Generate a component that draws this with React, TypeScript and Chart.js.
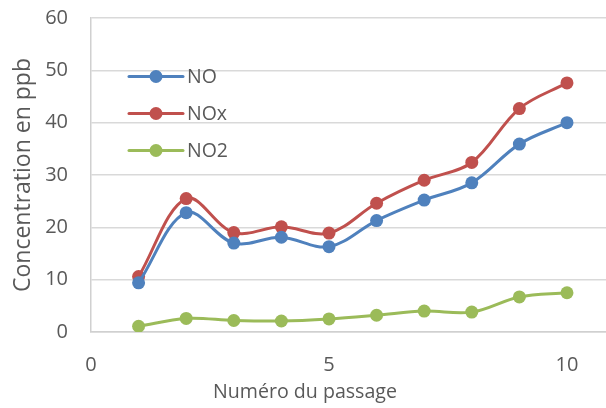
import React, { useEffect, useRef } from 'react';
import { Chart, registerables } from 'chart.js';
Chart.register(...registerables);

const passages = [1, 2, 3, 4, 5, 6, 7, 8, 9, 10];
const noValues = [9.4, 22.8, 17.0, 18.1, 16.3, 21.3, 25.2, 28.5, 35.9, 40.0];
const noxValues = [10.6, 25.5, 19.0, 20.1, 18.9, 24.6, 29.0, 32.4, 42.7, 47.6];
const no2Values = [1.1, 2.6, 2.2, 2.1, 2.5, 3.2, 4.0, 3.8, 6.7, 7.5];
const seriesNames = ['NO', 'NOx', 'NO2'];
const seriesColors = ['#4F81BD', '#C0504D', '#9BBB59'];
const xTicks = [0, 5, 10];
const yTicks = [0, 10, 20, 30, 40, 50, 60];
const xTitle = 'Numéro du passage';
const yTitle = 'Concentration en ppb';

const FONT = '"Open Sans", "Liberation Sans", sans-serif';
const TEXT = '#595959';

const overlay = {
  id: 'overlay',
  afterDraw(chart: any) {
    const ctx = chart.ctx;
    const a = chart.chartArea;
    ctx.save();
    seriesNames.forEach((name, i) => {
      const y = a.top + 58.5 + i * 37;
      const x0 = a.left + 38;
      const x1 = a.left + 92;
      ctx.strokeStyle = seriesColors[i];
      ctx.lineWidth = 3;
      ctx.lineCap = 'round';
      ctx.beginPath();
      ctx.moveTo(x0, y);
      ctx.lineTo(x1, y);
      ctx.stroke();
      ctx.fillStyle = seriesColors[i];
      ctx.beginPath();
      ctx.arc((x0 + x1) / 2, y, 6.5, 0, Math.PI * 2);
      ctx.fill();
      ctx.fillStyle = TEXT;
      ctx.font = `19.5px ${FONT}`;
      ctx.textAlign = 'left';
      ctx.textBaseline = 'middle';
      ctx.fillText(name, x1 + 4, y + 1);
    });
    ctx.fillStyle = TEXT;
    ctx.font = `19.6px ${FONT}`;
    ctx.textAlign = 'center';
    ctx.textBaseline = 'middle';
    ctx.fillText(xTitle, 305, 392);
    ctx.font = `23px ${FONT}`;
    ctx.translate(23, (a.top + a.bottom) / 2);
    ctx.rotate(-Math.PI / 2);
    ctx.fillText(yTitle, 0, 0);
    ctx.restore();
  },
};

export default function App() {
  const ref = useRef<HTMLCanvasElement>(null);
  useEffect(() => {
    const datasets = [noValues, noxValues, no2Values].map((vals, i) => ({
      label: seriesNames[i],
      data: passages.map((p, j) => ({ x: p, y: vals[j] })),
      borderColor: seriesColors[i],
      backgroundColor: seriesColors[i],
      pointBackgroundColor: seriesColors[i],
      pointBorderWidth: 0,
      pointRadius: 6.5,
      borderWidth: 3,
      tension: 0.35,
    }));
    const chart = new Chart(ref.current!, {
      type: 'line',
      data: { datasets },
      options: {
        animation: false,
        responsive: false,
        layout: { autoPadding: false, padding: { top: 18, left: 0, right: 0, bottom: 0 } },
        plugins: { legend: { display: false }, tooltip: { enabled: false } },
        scales: {
          x: {
            type: 'linear',
            min: 0,
            max: 10.82,
            afterBuildTicks: (s: any) => {
              s.ticks = xTicks.map((v) => ({ value: v }));
            },
            afterFit: (s: any) => {
              s.height = 76;
              s.paddingLeft = 0;
              s.paddingRight = 0;
            },
            grid: { display: false },
            border: { display: true, color: '#D0D0D0', width: 1.5 },
            ticks: { color: TEXT, font: { family: FONT, size: 20 }, padding: 13, maxRotation: 0 },
          },
          y: {
            min: 0,
            max: 60,
            afterBuildTicks: (s: any) => {
              s.ticks = yTicks.map((v) => ({ value: v }));
            },
            afterFit: (s: any) => {
              s.width = 91;
              s.paddingTop = 0;
              s.paddingBottom = 0;
            },
            grid: { color: '#D9D9D9', lineWidth: 1.5, drawTicks: false },
            border: { display: true, color: '#D0D0D0', width: 1.5 },
            ticks: { color: TEXT, font: { family: FONT, size: 20 }, padding: 23 },
          },
        },
      },
      plugins: [overlay],
    });
    return () => chart.destroy();
  }, []);
  return (
    <div style={{ position: 'absolute', left: 0, top: 0, width: 606, height: 408, background: '#fff' }}>
      <canvas ref={ref} width={606} height={408} style={{ display: 'block' }} />
    </div>
  );
}
